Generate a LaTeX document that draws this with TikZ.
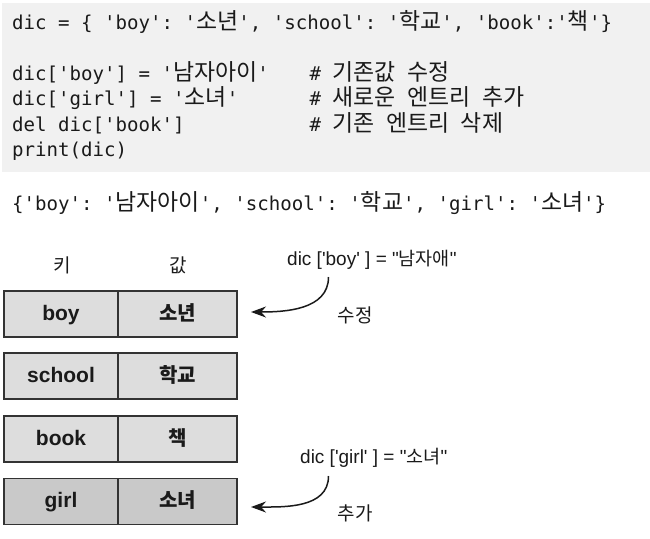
\documentclass[tikz,border=0pt]{standalone}
\usepackage{fontspec}
\usetikzlibrary{arrows.meta}
\newfontfamily\codefont{DejaVu Sans Mono}
\newfontfamily\krfont{Noto Sans CJK KR}
\newfontfamily\annfont{Liberation Sans}
\newcommand\KC[1]{{\krfont\fontsize{22.9}{25}\selectfont #1}}
\newcommand\KA[1]{{\krfont\fontsize{18.5}{22}\selectfont #1}}
\definecolor{codebg}{HTML}{F1F1F1}
\definecolor{cellA}{HTML}{DDDDDD}
\definecolor{cellB}{HTML}{C9C9C9}
\definecolor{edge}{HTML}{333333}
\definecolor{ink}{HTML}{1A1A1A}
\tikzset{
  codeline/.style={anchor=base west, inner sep=0pt, text=ink,
    font=\codefont\fontsize{19.1}{25}\selectfont\frenchspacing},
  cell/.style={draw=edge, line width=1.6pt, inner sep=0pt, minimum height=46pt,
    text height=15pt, text depth=3pt, text=ink},
  keycell/.style={cell, fill=cellA, minimum width=114pt,
    font=\annfont\bfseries\fontsize{21}{24}\selectfont},
  valcell/.style={cell, fill=cellA, minimum width=119pt,
    font=\krfont\bfseries\fontsize{20}{24}\selectfont},
  newrow/.style={fill=cellB},
  header/.style={inner sep=0pt, text=ink, font=\krfont\fontsize{19}{22}\selectfont},
  ann/.style={anchor=base west, inner sep=0pt, text=ink,
    font=\annfont\fontsize{19}{22}\selectfont},
  note/.style={inner sep=0pt, text=ink, font=\krfont\fontsize{19}{22}\selectfont},
  curvearrow/.style={draw=ink, line width=1.5pt,
    -{Stealth[length=15pt,width=11pt]}},
}
\begin{document}
\begin{tikzpicture}[x=1pt,y=-1pt]
\useasboundingbox (0,0) rectangle (650,538);
% code panel
\fill[codebg] (2,3) rectangle (650,172);
\node[codeline] (c1) at (12,29) {dic = \{ 'boy': '\KC{소년}', 'school': '\KC{학교}', 'book':'\KC{책}'\}};
\node[codeline] (c2) at (12,80.7) {dic['boy'] = '\KC{남자아이}'};
\node[codeline] (c3) at (12,105.7) {dic['girl'] = '\KC{소녀}'};
\node[codeline] (c4) at (12,131) {del dic['book']};
\node[codeline] (c5) at (12,156) {print(dic)};
\node[codeline] (m2) at (309.4,80.7) {\# \KC{기존값} \KC{수정}};
\node[codeline] (m3) at (309.4,105.7) {\# \KC{새로운} \KC{엔트리} \KC{추가}};
\node[codeline] (m4) at (309.4,131) {\# \KC{기존} \KC{엔트리} \KC{삭제}};
% output
\node[codeline] (out) at (12,210) {\{'boy': '\KC{남자아이}', 'school': '\KC{학교}', 'girl': '\KC{소녀}'\}};
% headers
\node[header] (hk) at (62,265) {키};
\node[header] (hv) at (178,265) {값};
% table rows
\node[keycell] (k1) at (61,314) {boy};
\node[valcell] (v1) at (177.5,314) {소년};
\node[keycell] (k2) at (61,376) {school};
\node[valcell] (v2) at (177.5,376) {학교};
\node[keycell] (k3) at (61,439) {book};
\node[valcell] (v3) at (177.5,439) {책};
\node[keycell,newrow] (k4) at (61,501.5) {girl};
\node[valcell,newrow] (v4) at (177.5,501.5) {소녀};
% annotations
\node[ann] (a1) at (287,265) {dic\;['boy'\;] = "\KA{남자애}"};
\node[note] (n1) at (355,315) {수정};
\node[ann] (a2) at (300,463) {dic\;['girl'\;] = "\KA{소녀}"};
\node[note] (n2) at (355,513) {추가};
\coordinate (s1) at (328.5,277);
\coordinate (t1) at (251,312);
\coordinate (s2) at (328.5,476);
\coordinate (t2) at (251,507);
\draw[curvearrow] (s1) to[out=-90,in=0] (t1);
\draw[curvearrow] (s2) to[out=-90,in=0] (t2);
\end{tikzpicture}
\end{document}
